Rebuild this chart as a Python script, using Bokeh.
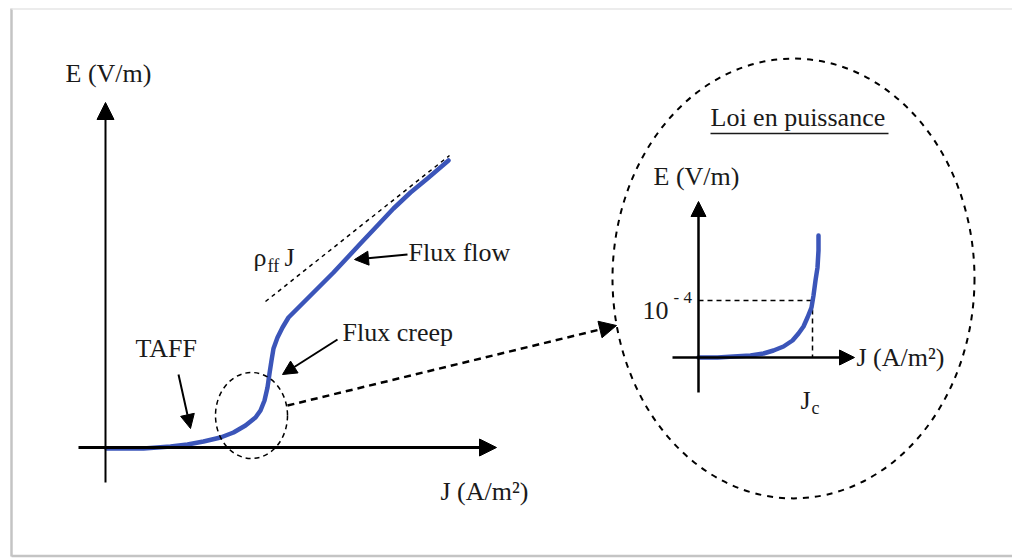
from bokeh.plotting import figure
from bokeh.models import Range1d, Arrow, NormalHead
from bokeh.core.properties import value
from bokeh.embed import file_html
from bokeh.resources import INLINE

# ---- data (figure coordinates, y grows downward) ----
# main E(J) characteristic: TAFF -> flux creep -> flux flow
main_j = [106, 143, 170, 187, 203, 220, 233, 245, 255, 260, 264, 267, 269, 271, 273,
          277, 282, 288, 297, 307, 320, 333, 347, 360, 377, 393, 410, 427, 448]
main_e = [448, 448, 446, 444, 441, 437, 432, 425, 417, 410, 400, 387, 373, 360, 348,
          337, 327, 317, 308, 298, 285, 272, 257, 243, 225, 208, 192, 178, 160]

# asymptote rho_ff * J
flow_j = [265, 449]
flow_e = [301, 155]

# power-law inset curve
inset_j = [698, 717, 733, 750, 763, 773, 783, 792, 798, 803, 807, 811, 813, 815, 817, 818, 818]
inset_e = [357, 357, 356, 355, 353, 350, 346, 340, 333, 326, 317, 307, 295, 280, 267, 250, 235]

# criterion point (Jc, 1e-4 V/m) in the inset
jc_x = [812]
ec_y = [300]

SERIF = value("Liberation Serif")
BLUE = "#3b55b9"

p = figure(width=1012, height=559, output_backend="svg", toolbar_location=None,
           x_range=Range1d(0, 1012), y_range=Range1d(559, 0),
           min_border=0, outline_line_color=None, background_fill_color="white")
p.axis.visible = False
p.grid.visible = False

# frame
p.line([11, 11], [8, 556], line_color="#c4c4c4", line_width=2.5)
p.line([11, 1012], [555.5, 555.5], line_color="#c4c4c4", line_width=2.5)
p.line([11, 1012], [8.5, 8.5], line_color="#e6e6e6", line_width=1.5)


def arrow(x0, y0, x1, y1, size, width, dash="solid"):
    p.add_layout(Arrow(x_start=x0, y_start=y0, x_end=x1, y_end=y1,
                       line_width=width, line_color="black", line_dash=dash,
                       end=NormalHead(size=size, fill_color="black",
                                      line_color="black", line_width=1)))


def label(x, y, txt, size="26px", align="left"):
    p.text(x=[x], y=[y], text=[txt], text_font=SERIF, text_font_size=size,
           text_align=align, text_baseline="middle", text_color="#1a1a1a")


# ---- main diagram ----
arrow(105, 482, 105, 102, 17, 2)          # E axis
arrow(78, 447, 496, 447, 17, 3)           # J axis
label(65, 73, "E (V/m)")
label(440, 491, "J (A/m²)")

p.line(flow_j, flow_e, line_color="black", line_width=1.5, line_dash="4 4")
p.line(main_j, main_e, line_color=BLUE, line_width=4.5, line_join="round", line_cap="round")

label(253, 257, "ρ")
label(267, 265, "ff", size="18px")
label(284, 257, "J")

label(408, 252, "Flux flow")
arrow(407, 254, 354, 259, 14, 2)
label(342, 332, "Flux creep")
arrow(337, 339, 282, 374, 14, 2)
label(135, 348, "TAFF")
arrow(178, 374, 190, 428, 14, 2)

# zoom region and link to the inset
p.ellipse(x=[251], y=[415], width=[72], height=[86], fill_color=None,
          line_color="black", line_width=1.5, line_dash="5 4")
arrow(287, 405, 616, 325, 17, 2.5, dash="7 5")

# ---- power-law inset ----
p.ellipse(x=[793], y=[278], width=[362], height=[440], fill_color=None,
          line_color="black", line_width=2, line_dash="6 6")
label(710, 117, "Loi en puissance")
p.line([710, 888], [133, 133], line_color="#1a1a1a", line_width=1.5)

arrow(698, 392, 698, 201, 15, 2.5)
arrow(672, 357, 854, 357, 15, 2.5)
label(653, 176, "E (V/m)")
label(856, 357, "J (A/m²)")

p.line([698, jc_x[0]], [ec_y[0], ec_y[0]], line_color="black", line_width=1.5, line_dash="5 4")
p.line([jc_x[0], jc_x[0]], [ec_y[0], 357], line_color="black", line_width=1.5, line_dash="5 4")
p.line(inset_j, inset_e, line_color=BLUE, line_width=4.5, line_join="round", line_cap="round")

label(668, 310, "10", align="right")
label(673, 297, "- 4", size="17px")
label(800, 400, "J")
label(811, 407, "c", size="18px")

open("out.html", "w").write(file_html(p, INLINE))
